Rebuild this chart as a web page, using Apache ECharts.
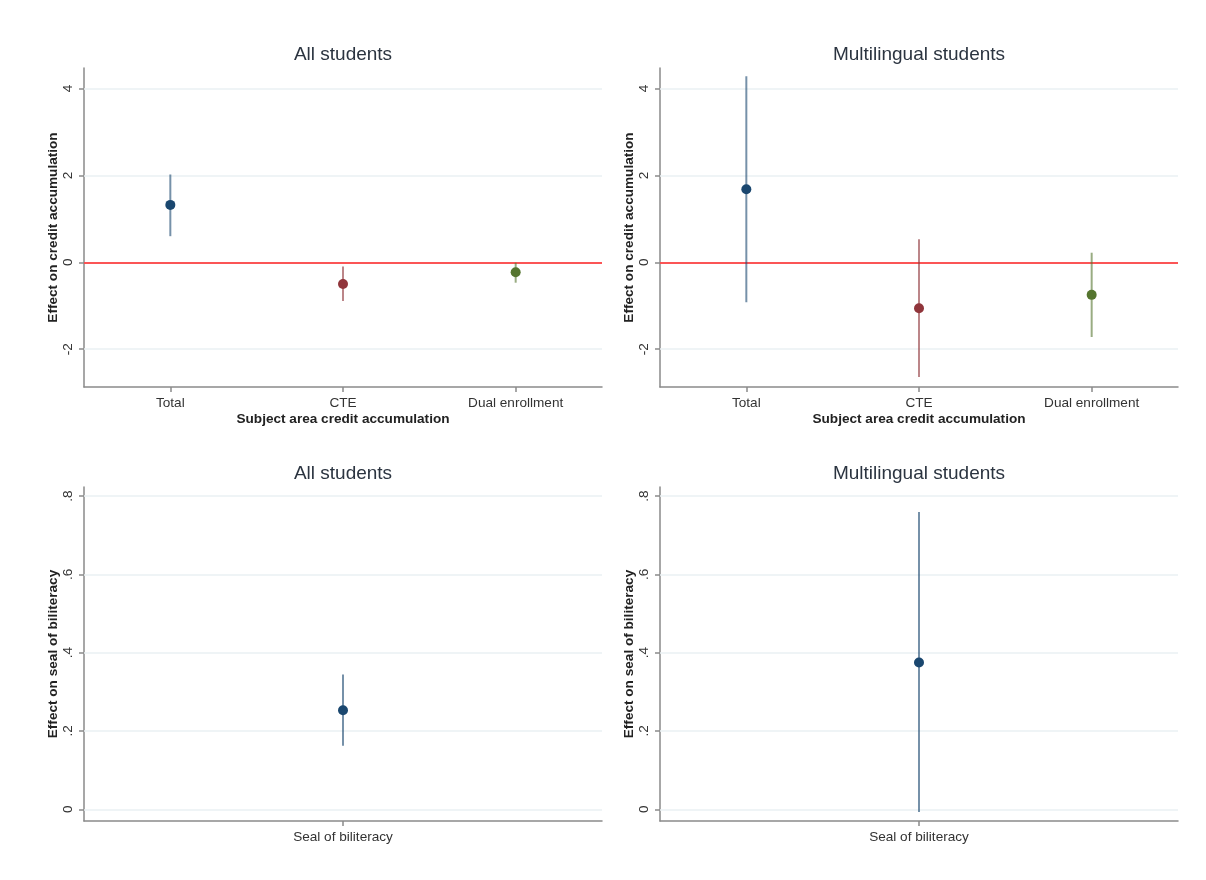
<!DOCTYPE html>
<html>
<head>
<meta charset="utf-8">
<script src="https://cdn.jsdelivr.net/npm/echarts@6/dist/echarts.min.js"></script>
<style>html,body{margin:0;padding:0;background:#fff;}#c{width:1206px;height:880px;}</style>
</head>
<body>
<div id="c"></div>
<script>
// ---- data ----
const creditCategories = ['Total', 'CTE', 'Dual enrollment'];
const sealCategories = ['Seal of biliteracy'];

const allCreditEst = [1.32, -0.50, -0.23];
const allCreditLo  = [0.60, -0.89, -0.47];
const allCreditHi  = [2.02, -0.10, -0.01];

const mlCreditEst = [1.68, -1.06, -0.75];
const mlCreditLo  = [-0.92, -2.64, -1.72];
const mlCreditHi  = [4.28, 0.53, 0.22];

const allSealEst = [0.253];
const allSealLo  = [0.162];
const allSealHi  = [0.344];

const mlSealEst = [0.375];
const mlSealLo  = [-0.007];
const mlSealHi  = [0.759];

const creditTicks = [-2, 0, 2, 4];
const sealTicks = [0, 0.2, 0.4, 0.6, 0.8];
const sealTickLabels = ['0', '.2', '.4', '.6', '.8'];

const panelTitles = ['All students', 'Multilingual students', 'All students', 'Multilingual students'];

// ---- styles ----
const catColors = ['#1a476f', '#90353b', '#55752f'];
const FONT = 'Liberation Sans, Arial, sans-serif';
const grids = [
  {left: 84, top: 68, width: 518, height: 319},
  {left: 660, top: 68, width: 518, height: 319},
  {left: 84, top: 487, width: 518, height: 334},
  {left: 660, top: 487, width: 518, height: 334}
];

function xAxisFor(i, cats, name) {
  return {
    type: 'category', gridIndex: i, data: cats, boundaryGap: true,
    name: name || '', nameLocation: 'middle', nameGap: 25,
    nameTextStyle: {fontFamily: FONT, fontSize: 13.6, fontWeight: 'bold', color: '#222'},
    axisLine: {show: true, onZero: false, lineStyle: {color: '#8a8a8a', width: 1.5}},
    axisTick: {show: true, alignWithLabel: true, length: 5, lineStyle: {color: '#8a8a8a', width: 1.5}},
    axisLabel: {fontFamily: FONT, fontSize: 13.6, color: '#333', margin: 9},
    splitLine: {show: false}
  };
}
function yAxisFor(i, min, max, ticks, labels, name) {
  return {
    type: 'value', gridIndex: i, min: min, max: max,
    name: name, nameLocation: 'middle', nameGap: 23, nameRotate: 90,
    nameTextStyle: {fontFamily: FONT, fontSize: 13.6, fontWeight: 'bold', color: '#222'},
    axisLine: {show: true, onZero: false, lineStyle: {color: '#8a8a8a', width: 1.5}},
    axisTick: {show: true, length: 5, customValues: ticks, lineStyle: {color: '#8a8a8a', width: 1.5}},
    axisLabel: {
      fontFamily: FONT, fontSize: 13.6, color: '#333', rotate: 90, margin: 9,
      customValues: ticks,
      formatter: function (v) {
        const idx = ticks.findIndex(t => Math.abs(t - v) < 1e-9);
        return labels ? labels[idx] : String(v);
      }
    },
    splitLine: {show: false}
  };
}

function ciSeries(i, lo, hi, est, hasZero, ticks) {
  const ciData = lo.map((l, k) => [k, l, hi[k]]);
  const ptData = est.map((e, k) => ({value: [k, e], itemStyle: {color: catColors[k], opacity: 1}}));
  const out = [];
  out.push({
    type: 'line', xAxisIndex: i, yAxisIndex: i, data: [], z: 1, silent: true,
    markLine: {
      silent: true, symbol: 'none', label: {show: false}, z: 1, animation: false,
      lineStyle: {color: '#eaf0f3', type: 'solid', width: 1.5},
      data: ticks.map(t => ({yAxis: t}))
    }
  });
  if (hasZero) {
    out.push({
      type: 'line', xAxisIndex: i, yAxisIndex: i, data: [], z: 2, silent: true,
      markLine: {
        silent: true, symbol: 'none', label: {show: false}, z: 2, animation: false,
        lineStyle: {color: '#ff2020', type: 'solid', width: 1.5},
        data: [{yAxis: 0}]
      }
    });
  }
  out.push({
    type: 'custom', xAxisIndex: i, yAxisIndex: i, data: ciData, z: 10,
    renderItem: function (params, api) {
      const x = api.value(0);
      const p1 = api.coord([x, api.value(1)]);
      const p2 = api.coord([x, api.value(2)]);
      return {
        type: 'line',
        shape: {x1: p1[0], y1: p1[1], x2: p2[0], y2: p2[1]},
        style: {stroke: catColors[x], lineWidth: 2, opacity: 0.6}
      };
    }
  });
  out.push({
    type: 'scatter', xAxisIndex: i, yAxisIndex: i, data: ptData, z: 11,
    symbol: 'circle', symbolSize: 10
  });
  return out;
}

const chart = echarts.init(document.getElementById('c'), null, {renderer: 'canvas'});

const titleGraphics = panelTitles.map((t, i) => ({
  type: 'text',
  x: grids[i].left + grids[i].width / 2,
  y: grids[i].top - 13,
  style: {text: t, fontFamily: FONT, fontSize: 19, fill: '#2b3440', textAlign: 'center', textVerticalAlign: 'middle'}
}));

chart.setOption({
  backgroundColor: '#ffffff',
  animation: false,
  grid: grids,
  graphic: titleGraphics,
  xAxis: [
    xAxisFor(0, creditCategories, 'Subject area credit accumulation'),
    xAxisFor(1, creditCategories, 'Subject area credit accumulation'),
    xAxisFor(2, sealCategories, ''),
    xAxisFor(3, sealCategories, '')
  ],
  yAxis: [
    yAxisFor(0, -2.87, 4.47, creditTicks, null, 'Effect on credit accumulation'),
    yAxisFor(1, -2.87, 4.47, creditTicks, null, 'Effect on credit accumulation'),
    yAxisFor(2, -0.03, 0.823, sealTicks, sealTickLabels, 'Effect on seal of biliteracy'),
    yAxisFor(3, -0.03, 0.823, sealTicks, sealTickLabels, 'Effect on seal of biliteracy')
  ],
  series: [].concat(
    ciSeries(0, allCreditLo, allCreditHi, allCreditEst, true, creditTicks),
    ciSeries(1, mlCreditLo, mlCreditHi, mlCreditEst, true, creditTicks),
    ciSeries(2, allSealLo, allSealHi, allSealEst, false, sealTicks),
    ciSeries(3, mlSealLo, mlSealHi, mlSealEst, false, sealTicks)
  )
});
</script>
</body>
</html>
